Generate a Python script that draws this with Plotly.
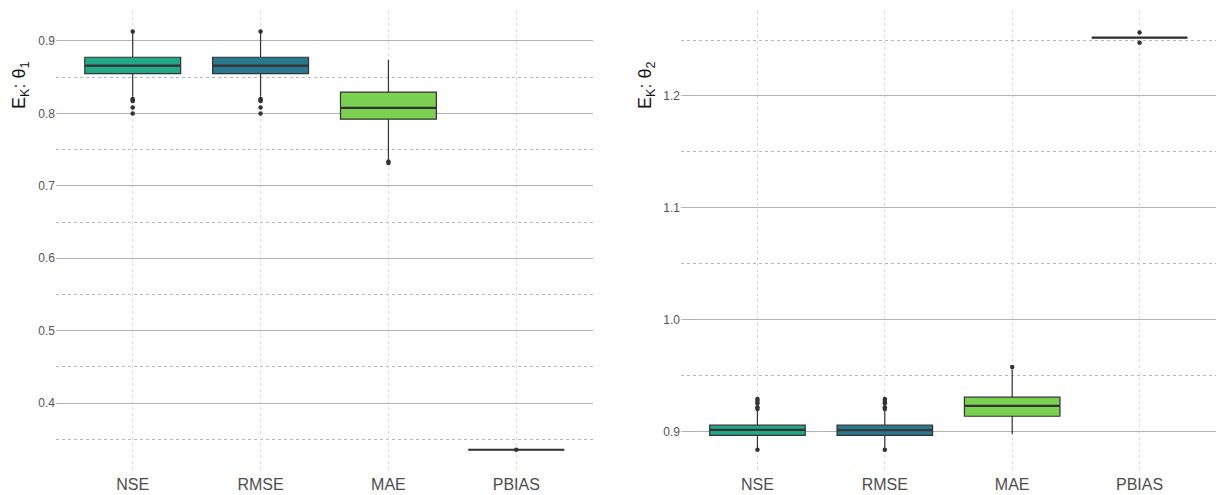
import plotly.graph_objects as go

# Categories (objective functions)
metrics = ["NSE", "RMSE", "MAE", "PBIAS"]

# Panel 1: E_K for theta_1 — box statistics per metric
theta1_q1 = [0.855, 0.855, 0.792, 0.3355]
theta1_median = [0.866, 0.866, 0.8075, 0.3355]
theta1_q3 = [0.8775, 0.8775, 0.8295, 0.3355]
theta1_lower = [0.823, 0.823, 0.736, 0.3355]
theta1_upper = [0.911, 0.911, 0.874, 0.3355]
theta1_outliers = [
    [0.913, 0.820, 0.8185, 0.817, 0.808, 0.800],
    [0.913, 0.820, 0.8185, 0.817, 0.808, 0.800],
    [0.7335, 0.7315],
    [0.3355],
]

# Panel 2: E_K for theta_2 — box statistics per metric
theta2_q1 = [0.897, 0.897, 0.914, 1.2522]
theta2_median = [0.9018, 0.9015, 0.9232, 1.2522]
theta2_q3 = [0.906, 0.906, 0.931, 1.2522]
theta2_lower = [0.8845, 0.8845, 0.898, 1.2522]
theta2_upper = [0.919, 0.919, 0.956, 1.2522]
theta2_outliers = [
    [0.9295, 0.9277, 0.9256, 0.922, 0.9205, 0.884],
    [0.9295, 0.9277, 0.9256, 0.922, 0.9205, 0.884],
    [0.958],
    [1.2566, 1.2476],
]

fills = ["#22A884", "#2A788E", "#7AD151", "#7AD151"]
EDGE = "#333333"
BOX_W = 0.75
FONT = "Liberation Sans, Arial, sans-serif"

fig = go.Figure()


def add_panel(q1, med, q3, lo, hi, outl, xa, ya):
    for i, name in enumerate(metrics):
        fig.add_trace(go.Box(
            x=[i], q1=[q1[i]], median=[med[i]], q3=[q3[i]],
            lowerfence=[lo[i]], upperfence=[hi[i]],
            width=BOX_W, whiskerwidth=0,
            fillcolor=fills[i], line=dict(color=EDGE, width=1.2),
            boxpoints=False, showlegend=False, hoverinfo="skip",
            xaxis=xa, yaxis=ya,
        ))
        # thicker median bar
        fig.add_trace(go.Scatter(
            x=[i - BOX_W / 2, i + BOX_W / 2], y=[med[i], med[i]],
            mode="lines", line=dict(color=EDGE, width=2.2),
            showlegend=False, hoverinfo="skip", xaxis=xa, yaxis=ya,
        ))
        fig.add_trace(go.Scatter(
            x=[i] * len(outl[i]), y=outl[i], mode="markers",
            marker=dict(color=EDGE, size=4.5),
            showlegend=False, hoverinfo="skip", xaxis=xa, yaxis=ya,
        ))


add_panel(theta1_q1, theta1_median, theta1_q3, theta1_lower, theta1_upper,
          theta1_outliers, "x", "y")
add_panel(theta2_q1, theta2_median, theta2_q3, theta2_lower, theta2_upper,
          theta2_outliers, "x2", "y2")

W, H = 1216, 495
ydom = [(H - 470) / H, (H - 11) / H]

xcommon = dict(
    range=[-0.6, 3.6], tickvals=list(range(len(metrics))), ticktext=metrics,
    showgrid=True, gridcolor="#dcdcdc", griddash="3px,3px", gridwidth=1,
    zeroline=False, showline=False, ticks="", ticklabelstandoff=3,
    tickfont=dict(family=FONT, size=16, color="#4d4d4d"),
)
ycommon = dict(
    showgrid=True, gridcolor="#b3b3b3", gridwidth=1,
    zeroline=False, showline=False, ticks="",
    tickfont=dict(family=FONT, size=12, color="#555555"),
    domain=ydom,
)

fig.update_layout(
    width=W, height=H,
    margin=dict(l=0, r=0, t=0, b=0),
    paper_bgcolor="white", plot_bgcolor="white",
    xaxis=dict(domain=[56 / W, 593 / W], anchor="y", **xcommon),
    xaxis2=dict(domain=[681 / W, 1.0], anchor="y2", **xcommon),
    yaxis=dict(
        anchor="x", range=[0.3075, 0.9414], tick0=0.4, dtick=0.1,
        tickformat=".1f",
        minor=dict(tick0=0.35, dtick=0.1, showgrid=True, gridcolor="#b8b8b8",
                   griddash="dot", gridwidth=1),
        **ycommon,
    ),
    yaxis2=dict(
        anchor="x2", range=[0.866, 1.2759], tick0=0.9, dtick=0.1,
        tickformat=".1f",
        minor=dict(tick0=0.95, dtick=0.1, showgrid=True, gridcolor="#b8b8b8",
                   griddash="dot", gridwidth=1),
        **ycommon,
    ),
    annotations=[
        dict(text="E<sub>K</sub>: θ<sub>1</sub>", x=20 / W, y=(H - 86) / H,
             xref="paper", yref="paper", textangle=-90, showarrow=False,
             xanchor="center", yanchor="middle",
             font=dict(family=FONT, size=18, color="#111111")),
        dict(text="E<sub>K</sub>: θ<sub>2</sub>", x=646 / W, y=(H - 86) / H,
             xref="paper", yref="paper", textangle=-90, showarrow=False,
             xanchor="center", yanchor="middle",
             font=dict(family=FONT, size=18, color="#111111")),
    ],
)

fig.write_html("out.html")
